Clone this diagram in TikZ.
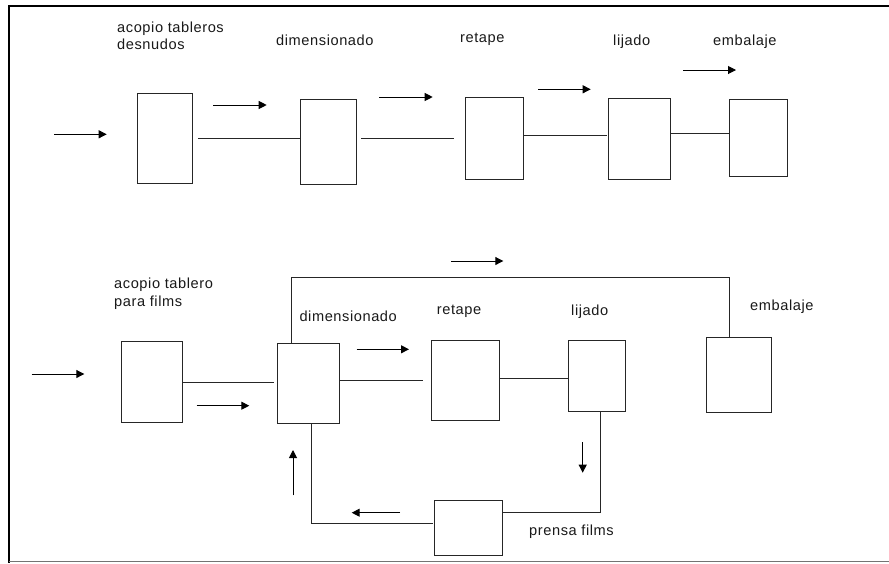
\documentclass[tikz,border=0pt]{standalone}
\usepackage{fontspec}
\setmainfont{Liberation Sans}[LetterSpace=4]
\usetikzlibrary{arrows.meta}
\begin{document}
\begin{tikzpicture}[x=1pt,y=-1pt,
  stagebox/.style={draw=black!85, line width=1pt, inner sep=0pt, anchor=north west},
  link/.style={draw=black!85, line width=1pt},
  flow/.style={black, line width=1pt, -{Triangle[length=8pt,width=8pt]}},
  label/.style={inner sep=0pt, anchor=base west, text=black!90, font=\fontsize{14.6}{17}\selectfont}]
\useasboundingbox (0,0) rectangle (889,563);

% frame
\draw[line width=2pt] (889,6) -- (9,6) -- (9,563);
\draw[black!55, line width=1.5pt] (9,561.5) -- (889,561.5);

% ---------------- line for bare boards ----------------
\node[stagebox, minimum width=55pt, minimum height=90pt] (b1) at (137,93) {};
\node[stagebox, minimum width=56pt, minimum height=85pt] (b2) at (300,99) {};
\node[stagebox, minimum width=58pt, minimum height=82pt] (b3) at (465,97) {};
\node[stagebox, minimum width=62pt, minimum height=81pt] (b4) at (608,98) {};
\node[stagebox, minimum width=58pt, minimum height=77pt] (b5) at (729,99) {};

\node[label] (t1a) at (117,32.5) {acopio tableros};
\node[label] (t1b) at (117,49.5) {desnudos};
\node[label] (t2) at (276,45.3) {dimensionado};
\node[label] (t3) at (460,42) {retape};
\node[label] (t4) at (613,45) {lijado};
\node[label] (t5) at (713,45) {embalaje};

\draw[link] ([xshift=5pt]b1.east) -- (b2.west |- b1.east);
\draw[link] (b2.east |- b3.west) ++(4,0) -- ([xshift=-11pt]b3.west);
\draw[link] (b3.east |- 0,135) -- ([xshift=-1pt]b4.west |- 0,135);
\draw[link] (b4.east |- 0,133) -- (b5.west |- 0,133);

\draw[flow] (54,134.3) -- (106.7,134.3);
\draw[flow] (213.3,105) -- (266.7,105);
\draw[flow] (379.3,97) -- (432.7,97);
\draw[flow] (538.3,89.3) -- (590.7,89.3);
\draw[flow] (683.3,70) -- (736,70);

% ---------------- line for film boards ----------------
\node[stagebox, minimum width=61pt, minimum height=81pt] (a) at (121,341) {};
\node[stagebox, minimum width=62pt, minimum height=80pt] (d) at (277,343) {};
\node[stagebox, minimum width=68pt, minimum height=80pt] (r) at (431,340) {};
\node[stagebox, minimum width=57pt, minimum height=71pt] (l) at (568,340) {};
\node[stagebox, minimum width=65pt, minimum height=75pt] (e) at (706,337) {};
\node[stagebox, minimum width=68pt, minimum height=55pt] (p) at (434,500) {};

\node[label] (u1a) at (114,288.5) {acopio tablero};
\node[label] (u1b) at (114,306) {para films};
\node[label] (u2) at (299.3,321) {dimensionado};
\node[label] (u3) at (436.7,314) {retape};
\node[label] (u4) at (571,315) {lijado};
\node[label] (u5) at (750,310) {embalaje};
\node[label] (u6) at (529,535) {prensa films};

\draw[link] ([xshift=-1pt]a.east) -- ([xshift=-3pt]d.west |- a.east);
\draw[link] (d.east |- r.west) -- ([xshift=-8pt]r.west);
\draw[link] (r.east |- 0,378) -- ([xshift=1pt]l.west |- 0,378);

\coordinate (dUp) at ([xshift=-17pt]d.north);
\coordinate (eUp) at ([xshift=-9.5pt]e.north);
\draw[link] (dUp) -- ++(0,-65.5) -| (eUp);

\coordinate (lDn) at ([xshift=3pt]l.south);
\draw[link] (lDn) |- (p.east |- 0,512);

\coordinate (dDn) at ([xshift=3pt]d.south);
\draw[link] ([xshift=-1.5pt]p.west |- 0,523) -| (dDn);

\draw[flow] (31.7,374) -- (84.3,374);
\draw[flow] (196.7,405.7) -- (249.3,405.7);
\draw[flow] (356.7,349.3) -- (409,349.3);
\draw[flow] (451,261) -- (503.3,261);
\draw[flow] (582.7,442.3) -- (582.7,472.7);
\draw[flow] (400,512.7) -- (351.7,512.7);
\draw[flow] (293,495.3) -- (293,450);
\end{tikzpicture}
\end{document}
